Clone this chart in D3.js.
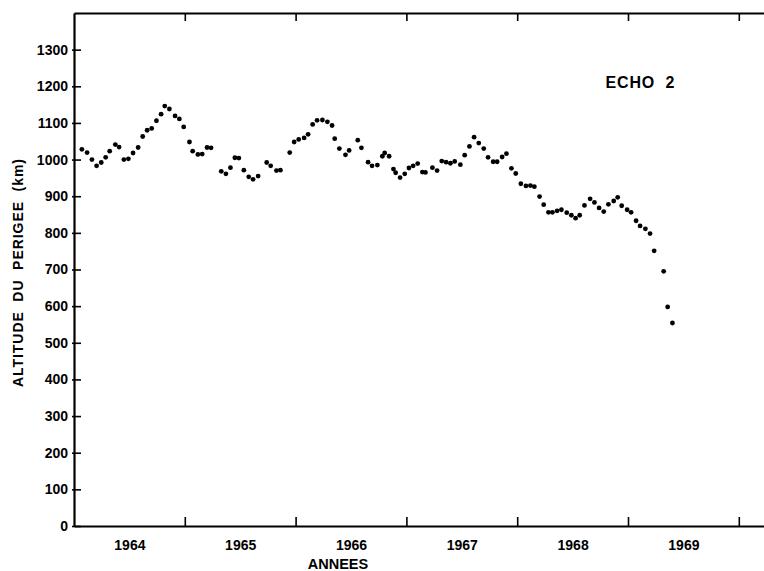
<!DOCTYPE html>
<html>
<head>
<meta charset="utf-8">
<script src="https://cdn.jsdelivr.net/npm/d3@7"></script>
<style>
  html, body { margin: 0; padding: 0; background: #fff; }
  svg { display: block; }
  .axis text { font-family: "Liberation Sans", Arial, sans-serif; font-weight: bold; font-size: 14px; fill: #000; }
  .axis path, .axis line { stroke: #000; }
</style>
</head>
<body>
<script>
// Perigee altitude of the Echo 2 balloon satellite, 1964–1969 (decimal year, km)
const dates = [
  1964.071, 1964.118, 1964.162, 1964.204, 1964.246, 1964.286, 1964.322, 1964.373, 1964.407, 1964.450,
  1964.491, 1964.533, 1964.579, 1964.620, 1964.660, 1964.701, 1964.744, 1964.786, 1964.819, 1964.861,
  1964.912, 1964.951, 1964.990, 1965.042, 1965.071, 1965.118, 1965.157, 1965.201, 1965.237, 1965.329,
  1965.371, 1965.412, 1965.452, 1965.488, 1965.533, 1965.577, 1965.616, 1965.662, 1965.739, 1965.775,
  1965.827, 1965.863, 1965.947, 1965.987, 1966.028, 1966.077, 1966.113, 1966.154, 1966.194, 1966.242,
  1966.287, 1966.329, 1966.353, 1966.395, 1966.450, 1966.483, 1966.561, 1966.594, 1966.654, 1966.690,
  1966.738, 1966.783, 1966.804, 1966.844, 1966.883, 1966.903, 1966.943, 1966.985, 1967.023, 1967.061,
  1967.102, 1967.144, 1967.172, 1967.235, 1967.277, 1967.319, 1967.358, 1967.397, 1967.436, 1967.487,
  1967.526, 1967.569, 1967.611, 1967.653, 1967.698, 1967.737, 1967.783, 1967.819, 1967.864, 1967.903,
  1967.948, 1967.987, 1968.033, 1968.079, 1968.119, 1968.155, 1968.202, 1968.239, 1968.282, 1968.318,
  1968.360, 1968.399, 1968.447, 1968.489, 1968.527, 1968.564, 1968.607, 1968.658, 1968.697, 1968.739,
  1968.781, 1968.823, 1968.871, 1968.907, 1968.943, 1968.992, 1969.028, 1969.073, 1969.109, 1969.157,
  1969.199, 1969.236, 1969.322, 1969.358, 1969.401
];
const altitudes = [
  1028, 1019, 1000, 983, 992, 1006, 1023, 1041, 1034, 1000,
  1002, 1018, 1033, 1063, 1080, 1085, 1106, 1124, 1146, 1138,
  1119, 1111, 1089, 1048, 1023, 1014, 1015, 1033, 1032, 968,
  961, 978, 1005, 1004, 971, 953, 946, 955, 992, 983,
  970, 971, 1019, 1048, 1055, 1059, 1069, 1096, 1107, 1108,
  1103, 1093, 1057, 1030, 1013, 1025, 1053, 1032, 993, 983,
  985, 1009, 1018, 1009, 974, 964, 951, 961, 977, 983,
  989, 966, 965, 978, 970, 996, 993, 990, 995, 986,
  1012, 1036, 1061, 1045, 1030, 1006, 994, 994, 1007, 1016,
  976, 962, 934, 928, 929, 926, 899, 877, 856, 856,
  860, 863, 855, 848, 840, 848, 875, 893, 883, 868,
  858, 878, 887, 897, 874, 863, 856, 833, 819, 811,
  798, 751, 695, 598, 554
];

// Axis ticks and labels
const yTicks = [0, 100, 200, 300, 400, 500, 600, 700, 800, 900, 1000, 1100, 1200, 1300];
const yearBoundaries = [1965, 1966, 1967, 1968, 1969, 1970];
const yearLabels = [1964, 1965, 1966, 1967, 1968, 1969];
const title = "ECHO  2";
const xTitle = "ANNEES";
const yTitle = "ALTITUDE  DU  PERIGEE  (km)";

const W = 764, H = 571;
const svg = d3.select("body").append("svg").attr("width", W).attr("height", H);

const x = d3.scaleLinear().domain([1964, 1970.25]).range([74, 766.5]);
const y = d3.scaleLinear().domain([0, 1400]).range([526, 13]);

// Left axis with inward ticks
const gy = svg.append("g").attr("class", "axis").attr("transform", `translate(${x(1964)},0)`)
  .call(d3.axisLeft(y).tickValues(yTicks).tickSize(-7).tickSizeOuter(0).tickPadding(6).tickFormat(d3.format("d")));
gy.select(".domain").attr("stroke-width", 2.2);
gy.selectAll(".tick line").attr("stroke-width", 1.6).attr("x1", -2);

// Bottom axis: year boundary ticks pointing up
const gx = svg.append("g").attr("class", "axis").attr("transform", `translate(0,${y(0)})`)
  .call(d3.axisBottom(x).tickValues(yearBoundaries).tickSize(-9).tickSizeOuter(0).tickFormat(""));
gx.select(".domain").attr("stroke-width", 2.2);
gx.selectAll(".tick line").attr("stroke-width", 1.6);

// Year labels centred in each year
const gl = svg.append("g").attr("class", "axis").attr("transform", `translate(0,${y(0)})`)
  .call(d3.axisBottom(x).tickValues(yearLabels.map(v => v + 0.5)).tickSize(0).tickPadding(14)
    .tickFormat(d => String(Math.floor(d))));
gl.select(".domain").remove();

// Top frame with ticks pointing down
const gt = svg.append("g").attr("class", "axis").attr("transform", `translate(0,${y(1400)})`)
  .call(d3.axisTop(x).tickValues(yearBoundaries).tickSize(-8).tickSizeOuter(0).tickFormat(""));
gt.select(".domain").attr("stroke-width", 2.2);
gt.selectAll(".tick line").attr("stroke-width", 1.6);

// Data points
svg.append("g").selectAll("circle")
  .data(dates.map((d, i) => ({ t: d, v: altitudes[i] })))
  .join("circle")
  .attr("cx", d => x(d.t))
  .attr("cy", d => y(d.v))
  .attr("r", 2.4)
  .attr("fill", "#000");

// Titles
svg.append("text")
  .attr("x", 640).attr("y", 88)
  .attr("text-anchor", "middle")
  .attr("font-family", "Liberation Sans, Arial, sans-serif")
  .attr("font-weight", "bold").attr("font-size", 16)
  .attr("textLength", 69).attr("lengthAdjust", "spacing")
  .style("white-space", "pre")
  .text(title);

svg.append("text")
  .attr("x", 338).attr("y", 569)
  .attr("text-anchor", "middle")
  .attr("font-family", "Liberation Sans, Arial, sans-serif")
  .attr("font-weight", "bold").attr("font-size", 14.5)
  .text(xTitle);

svg.append("text")
  .attr("transform", "translate(23,273) rotate(-90)")
  .attr("text-anchor", "middle")
  .attr("font-family", "Liberation Sans, Arial, sans-serif")
  .attr("font-weight", "bold").attr("font-size", 14)
  .attr("textLength", 228).attr("lengthAdjust", "spacing")
  .style("white-space", "pre")
  .text(yTitle);
</script>
</body>
</html>
